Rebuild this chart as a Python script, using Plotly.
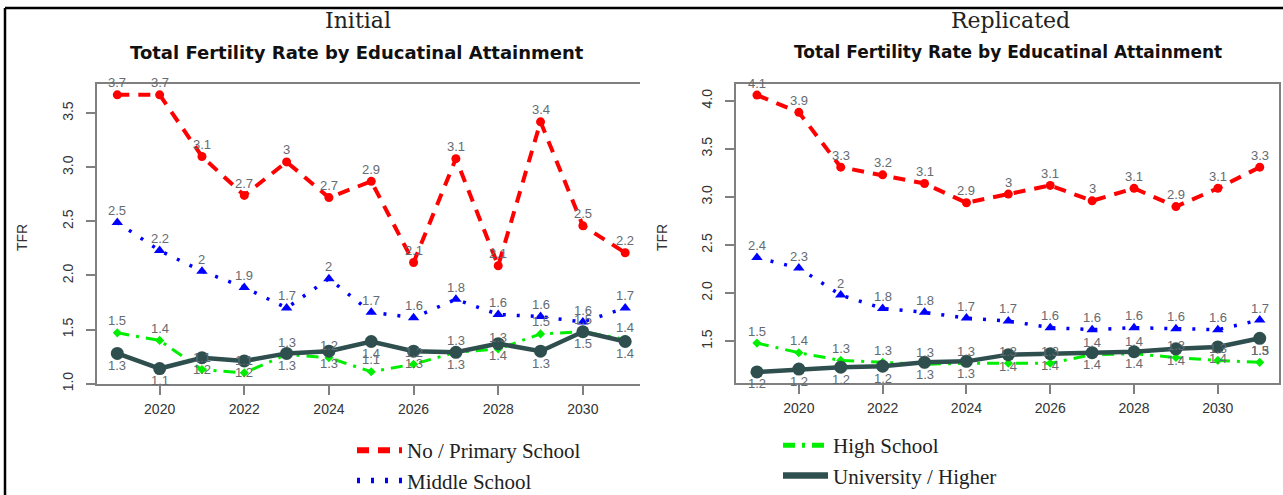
import plotly.graph_objects as go

# ---- data -------------------------------------------------------------
years = list(range(2019, 2032))
x_ticks = [2020, 2022, 2024, 2026, 2028, 2030]

# Initial projection: TFR by educational attainment
init_primary = [3.67, 3.67, 3.10, 2.74, 3.05, 2.72, 2.87, 2.12, 3.08, 2.09, 3.42, 2.46, 2.21]
init_middle = [2.49, 2.23, 2.04, 1.89, 1.70, 1.97, 1.66, 1.61, 1.78, 1.64, 1.62, 1.57, 1.70]
init_high = [1.47, 1.40, 1.13, 1.10, 1.27, 1.24, 1.11, 1.18, 1.29, 1.32, 1.46, 1.48, 1.41]
init_univ = [1.28, 1.14, 1.24, 1.21, 1.28, 1.30, 1.39, 1.30, 1.29, 1.37, 1.30, 1.48, 1.39]

# Replicated projection
rep_primary = [4.06, 3.88, 3.31, 3.23, 3.14, 2.94, 3.03, 3.12, 2.96, 3.09, 2.90, 3.09, 3.31]
rep_middle = [2.37, 2.26, 1.98, 1.84, 1.80, 1.74, 1.71, 1.64, 1.62, 1.64, 1.63, 1.62, 1.72]
rep_high = [1.48, 1.38, 1.30, 1.28, 1.26, 1.27, 1.27, 1.27, 1.36, 1.37, 1.33, 1.30, 1.28]
rep_univ = [1.18, 1.21, 1.23, 1.24, 1.28, 1.29, 1.36, 1.37, 1.38, 1.39, 1.42, 1.44, 1.53]

init_yticks = [1.0, 1.5, 2.0, 2.5, 3.0, 3.5]
rep_yticks = [1.5, 2.0, 2.5, 3.0, 3.5, 4.0]

series_names = ["No / Primary School", "Middle School", "High School", "University / Higher"]

# ---- styling ----------------------------------------------------------
W, H = 1283, 495


def fx(p):
    return p / W


def fy(p):
    return 1 - p / H


styles = [
    dict(color="#FF0000", width=4, dash="12px,9px", symbol="circle", size=9, above=True),
    dict(color="#0000FF", width=3.5, dash="3px,11px", symbol="triangle-up", size=10, above=True),
    dict(color="#00EE00", width=3, dash="12px,7px,3px,7px", symbol="diamond", size=7, above=True),
    dict(color="#2F4F4F", width=4.5, dash="solid", symbol="circle", size=13, above=False),
]

label_font = dict(family="Liberation Sans, Arial, sans-serif", size=13, color="#646b72")
tick_font = dict(family="Liberation Sans, Arial, sans-serif", size=14, color="#333333")
legend_font = dict(family="Liberation Serif, Times New Roman, serif", size=21, color="#222222")

fig = go.Figure()
annotations = []

panels = [
    ("x", "y", [init_primary, init_middle, init_high, init_univ], "legend", [0, 1]),
    ("x2", "y2", [rep_primary, rep_middle, rep_high, rep_univ], "legend2", [2, 3]),
]

for xa, ya, data, leg, leg_items in panels:
    for i, (vals, st) in enumerate(zip(data, styles)):
        fig.add_trace(go.Scatter(
            x=years, y=vals, xaxis=xa, yaxis=ya, mode="lines+markers",
            line=dict(color=st["color"], width=st["width"], dash=st["dash"]),
            marker=dict(color=st["color"], symbol=st["symbol"], size=st["size"]),
            showlegend=False, hoverinfo="x+y",
        ))
        for yr, v in zip(years, vals):
            annotations.append(dict(
                x=yr, y=v, xref=xa, yref=ya, text=f"{round(v, 1):g}",
                showarrow=False, font=label_font,
                yshift=12 if st["above"] else -12,
            ))
    # legend entries (line samples only)
    for i in leg_items:
        st = styles[i]
        fig.add_trace(go.Scatter(
            x=[None], y=[None], xaxis=xa, yaxis=ya, mode="lines",
            name=series_names[i], legend=leg,
            line=dict(color=st["color"], width=st["width"] + 2, dash=st["dash"]),
        ))

axis_line = dict(showline=True, linecolor="#808080", linewidth=1.5,
                 ticks="outside", ticklen=9, tickcolor="#808080", tickwidth=1.5,
                 showgrid=False, zeroline=False, tickfont=tick_font)

fig.update_layout(
    width=W, height=H,
    margin=dict(l=0, r=0, t=0, b=0, autoexpand=False),
    paper_bgcolor="white", plot_bgcolor="white",
    xaxis=dict(domain=[fx(97), fx(640)], range=[2018.52, 2031.35], anchor="y",
               tickvals=x_ticks, mirror=True, ticklabelstandoff=2, **axis_line),
    yaxis=dict(domain=[fy(384), fy(84)], range=[0.997, 3.77], anchor="x",
               tickvals=init_yticks, tickformat=".1f", tickangle=-90,
               mirror=False, ticklabelstandoff=8, **axis_line),
    xaxis2=dict(domain=[fx(736), fx(1279)], range=[2018.5, 2031.46], anchor="y2",
                tickvals=x_ticks, mirror=True, ticklabelstandoff=2, **axis_line),
    yaxis2=dict(domain=[fy(383), fy(84)], range=[1.065, 4.175], anchor="x2",
                tickvals=rep_yticks, tickformat=".1f", tickangle=-90,
                mirror=True, ticklabelstandoff=8, **axis_line),
    legend=dict(x=fx(352), y=fy(430), xanchor="left", yanchor="top",
                font=legend_font, itemwidth=45, tracegroupgap=0,
                bgcolor="rgba(0,0,0,0)"),
    legend2=dict(x=fx(778), y=fy(425), xanchor="left", yanchor="top",
                 font=legend_font, itemwidth=45, tracegroupgap=0,
                 bgcolor="rgba(0,0,0,0)"),
    showlegend=True,
)

# panel headings and axis titles
title_font = dict(family="DejaVu Serif, serif", size=22, color="#222222")
sub_font = dict(family="DejaVu Sans, sans-serif", size=18, color="#111111")
heading = [
    ("Initial", 358, 20, title_font),
    ("Replicated", 1010, 20, title_font),
    ("<b>Total Fertility Rate by Educatinal Attainment</b>", 357, 52, sub_font),
    ("<b>Total Fertility Rate by Educatinal Attainment</b>", 1008, 52, dict(sub_font, size=17)),
]
for txt, px, py, font in heading:
    annotations.append(dict(x=fx(px), y=fy(py), xref="paper", yref="paper", text=txt,
                            showarrow=False, font=font, xanchor="center", yanchor="middle"))
for px in (22, 662):
    annotations.append(dict(x=fx(px), y=fy(238), xref="paper", yref="paper", text="TFR",
                            textangle=-90, showarrow=False,
                            font=dict(family="Liberation Sans, Arial, sans-serif", size=14,
                                      color="#333333"),
                            xanchor="center", yanchor="middle"))

fig.update_layout(annotations=annotations)

# outer frame
fig.add_shape(type="line", xref="paper", yref="paper", x0=fx(5), x1=fx(5), y0=0, y1=fy(8),
              line=dict(color="black", width=2.5))
fig.add_shape(type="line", xref="paper", yref="paper", x0=fx(5), x1=1, y0=fy(8), y1=fy(8),
              line=dict(color="black", width=2.5))

fig.write_html("out.html")
